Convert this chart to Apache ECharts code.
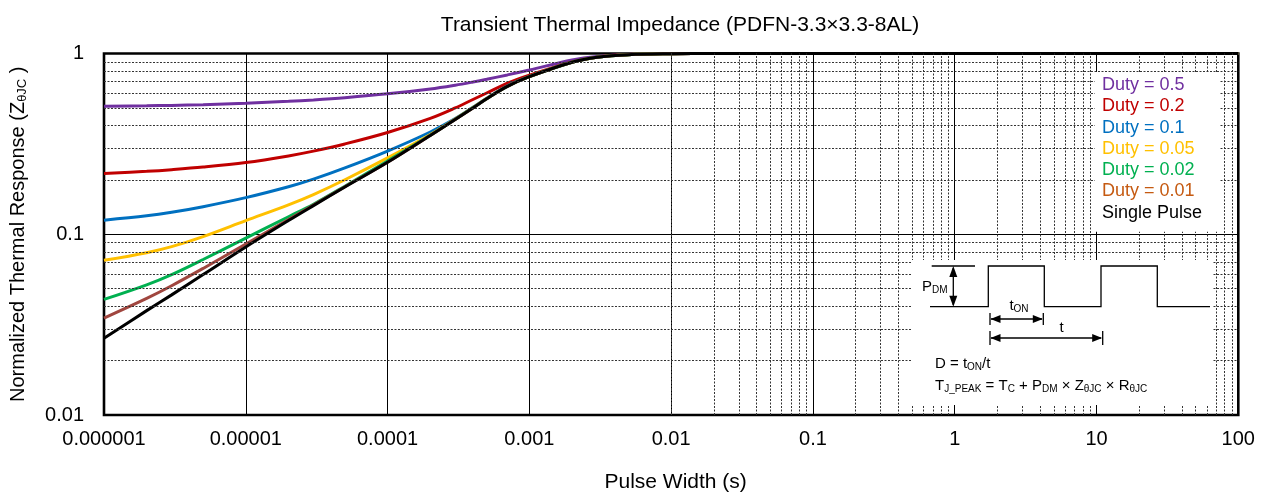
<!DOCTYPE html>
<html><head><meta charset="utf-8">
<script src="https://cdn.jsdelivr.net/npm/echarts@6/dist/echarts.min.js"></script>
<style>html,body{margin:0;padding:0;background:#fff}#c{width:1264px;height:499px}</style>
</head><body><div id="c"></div>
<script>
// ---- data ----
const pulseWidth = [1e-6, 2e-6, 3e-6, 5e-6, 1e-5, 2e-5, 3e-5, 5e-5, 1e-4, 2e-4, 3e-4, 4e-4, 5e-4, 7e-4, 1e-3, 2e-3, 3e-3, 5e-3, 1e-2, 2e-2, 1e-1, 1, 10, 100];
const duty05   = [0.510, 0.5136, 0.5163, 0.5211, 0.5309, 0.5439, 0.5538, 0.5697, 0.598, 0.6364, 0.668, 0.6957, 0.720, 0.7613, 0.810, 0.920, 0.963, 0.988, 0.998, 1, 1, 1, 1, 1];
const duty02   = [0.217, 0.223, 0.2277, 0.2353, 0.2495, 0.2713, 0.2883, 0.316, 0.3656, 0.4377, 0.500, 0.5566, 0.6046, 0.6846, 0.758, 0.898, 0.955, 0.986, 0.997, 1, 1, 1, 1, 1];
const duty01   = [0.1197, 0.1265, 0.1323, 0.1421, 0.1594, 0.1831, 0.2017, 0.2328, 0.2885, 0.3678, 0.436, 0.5036, 0.5655, 0.6623, 0.746, 0.895, 0.953, 0.985, 0.997, 1, 1, 1, 1, 1];
const duty005  = [0.0718, 0.0791, 0.0854, 0.0971, 0.119, 0.1455, 0.1659, 0.2003, 0.2644, 0.3561, 0.434, 0.502, 0.5635, 0.659, 0.745, 0.894, 0.953, 0.985, 0.997, 1, 1, 1, 1, 1];
const duty002  = [0.0436, 0.0525, 0.0598, 0.0725, 0.0952, 0.125, 0.1465, 0.1845, 0.2545, 0.353, 0.4325, 0.5005, 0.5623, 0.6582, 0.744, 0.894, 0.953, 0.985, 0.997, 1, 1, 1, 1, 1];
const duty001  = [0.0344, 0.0442, 0.0519, 0.0647, 0.0884, 0.1207, 0.1452, 0.1832, 0.2505, 0.3522, 0.4321, 0.500, 0.562, 0.658, 0.744, 0.894, 0.953, 0.985, 0.997, 1, 1, 1, 1, 1];
const single   = [0.0266, 0.0378, 0.0462, 0.0598, 0.085, 0.119, 0.144, 0.1825, 0.250, 0.352, 0.432, 0.500, 0.562, 0.658, 0.744, 0.894, 0.953, 0.985, 0.997, 1, 1, 1, 1, 1];

const seriesNames = ['Duty = 0.5', 'Duty = 0.2', 'Duty = 0.1', 'Duty = 0.05', 'Duty = 0.02', 'Duty = 0.01', 'Single Pulse'];
const xTickLabels = ['0.000001', '0.00001', '0.0001', '0.001', '0.01', '0.1', '1', '10', '100'];
const yTickLabels = ['0.01', '0.1', '1'];
const minorMultipliers = [2, 3, 4, 5, 6, 7, 8, 9];
const xDecades = [1e-6, 1e-5, 1e-4, 1e-3, 1e-2, 1e-1, 1, 10];
const yDecades = [0.01, 0.1];

// ---- style ----
const FONT = '"Liberation Sans", Arial, sans-serif';
const lineColors = ['#7030A0', '#C00000', '#0070C0', '#FFC000', '#00B050', '#A0463F', '#000000'];
const legendColors = ['#7030A0', '#C00000', '#0070C0', '#FFC000', '#00B050', '#C55A11', '#000000'];
const values = [duty05, duty02, duty01, duty005, duty002, duty001, single];

const xMinor = [], yMinor = [];
xDecades.forEach(d => minorMultipliers.forEach(m => xMinor.push({ xAxis: m * d })));
yDecades.forEach(d => minorMultipliers.forEach(m => yMinor.push({ yAxis: m * d })));

const series = [{
  type: 'line', name: '__grid', data: [], silent: true, z: 1,
  markLine: {
    silent: true, animation: false, symbol: ['none', 'none'], label: { show: false },
    emphasis: { disabled: true },
    lineStyle: { color: '#333', type: [2, 1.5], width: 1 },
    data: xMinor.concat(yMinor)
  }
}];
seriesNames.forEach((n, i) => {
  series.push({
    name: n, type: 'line', data: pulseWidth.map((x, j) => [x, values[i][j]]),
    symbol: 'none', smooth: 0.35, z: 3,
    lineStyle: { color: lineColors[i], width: 3 }, itemStyle: { color: lineColors[i] },
    emphasis: { disabled: true }, animation: false
  });
});

const sub = { fontSize: 10, fontFamily: FONT, color: '#000', padding: [7, 0, 0, 0] };
const nrm = { fontSize: 15, fontFamily: FONT, color: '#000' };
const Z = 100;
const blk = { stroke: '#000', lineWidth: 1.3, fill: null };
function tri(p) { return { type: 'polygon', z: Z, shape: { points: p }, style: { fill: '#000' } }; }
const graphic = [
  { type: 'rect', z: Z, shape: { x: 911, y: 260, width: 301, height: 145 }, style: { fill: '#fff' } },
  { type: 'polyline', z: Z, shape: { points: [[930, 306.7], [988.3, 306.7], [988.3, 266], [1044.3, 266], [1044.3, 306.7], [1101, 306.7], [1101, 266], [1157.3, 266], [1157.3, 306.7], [1210, 306.7]] }, style: blk },
  { type: 'line', z: Z, shape: { x1: 931.7, y1: 266, x2: 975, y2: 266 }, style: blk },
  { type: 'line', z: Z, shape: { x1: 953.3, y1: 268, x2: 953.3, y2: 305 }, style: blk },
  tri([[953.3, 266], [949.3, 277], [957.3, 277]]),
  tri([[953.3, 306.7], [949.3, 295.7], [957.3, 295.7]]),
  { type: 'line', z: Z, shape: { x1: 990, y1: 313, x2: 990, y2: 325 }, style: blk },
  { type: 'line', z: Z, shape: { x1: 1043.3, y1: 313, x2: 1043.3, y2: 325 }, style: blk },
  { type: 'line', z: Z, shape: { x1: 991, y1: 319, x2: 1042, y2: 319 }, style: blk },
  tri([[990.5, 319], [1000.5, 315], [1000.5, 323]]),
  tri([[1042.8, 319], [1032.8, 315], [1032.8, 323]]),
  { type: 'line', z: Z, shape: { x1: 990, y1: 331, x2: 990, y2: 345 }, style: blk },
  { type: 'line', z: Z, shape: { x1: 1102.7, y1: 331, x2: 1102.7, y2: 345 }, style: blk },
  { type: 'line', z: Z, shape: { x1: 991, y1: 338, x2: 1101, y2: 338 }, style: blk },
  tri([[990.5, 338], [1000.5, 334], [1000.5, 342]]),
  tri([[1102.2, 338], [1092.2, 334], [1092.2, 342]]),
  { type: 'text', z: Z, x: 922, y: 287, style: { text: '{n|P}{s|DM}', rich: { n: nrm, s: sub }, verticalAlign: 'middle', align: 'left' } },
  { type: 'text', z: Z, x: 1019, y: 306, style: { text: '{n|t}{s|ON}', rich: { n: nrm, s: sub }, verticalAlign: 'middle', align: 'center' } },
  { type: 'text', z: Z, x: 1061.7, y: 328, style: { text: 't', font: '15px ' + FONT, fill: '#000', verticalAlign: 'middle', align: 'center' } },
  { type: 'text', z: Z, x: 935, y: 364, style: { text: '{n|D = t}{s|ON}{n|/t}', rich: { n: nrm, s: sub }, verticalAlign: 'middle', align: 'left' } },
  { type: 'text', z: Z, x: 935, y: 386, style: { text: '{n|T}{s|J_PEAK}{n| = T}{s|C}{n| + P}{s|DM}{n| × Z}{s|θJC}{n| × R}{s|θJC}', rich: { n: nrm, s: sub }, verticalAlign: 'middle', align: 'left' } }
];

const chart = echarts.init(document.getElementById('c'), null, { renderer: 'canvas' });
chart.setOption({
  animation: false,
  backgroundColor: '#fff',
  title: {
    text: 'Transient Thermal Impedance (PDFN-3.3×3.3-8AL)',
    left: 675, top: 10, textAlign: 'center',
    textStyle: { fontFamily: FONT, fontSize: 21, fontWeight: 'normal', color: '#000' }
  },
  grid: { left: 102.3, right: 25.7, top: 53.5, bottom: 84, show: true, borderColor: '#000', borderWidth: 2.6, backgroundColor: 'transparent', containLabel: false },
  legend: {
    orient: 'vertical', left: 1095, top: 72, icon: 'none', itemWidth: 0, itemHeight: 14, itemGap: 3.3,
    padding: [4, 18, 10, 2], backgroundColor: '#fff', selectedMode: false, z: 50,
    textStyle: { fontSize: 18, fontFamily: FONT },
    data: seriesNames.map((n, i) => ({ name: n, textStyle: { color: legendColors[i], fontSize: 18, fontFamily: FONT } }))
  },
  xAxis: {
    type: 'log', logBase: 10, min: 1e-6, max: 100, interval: 1,
    name: 'Pulse Width (s)', nameLocation: 'middle', nameGap: 57,
    nameTextStyle: { fontFamily: FONT, fontSize: 21, color: '#000', padding: [0, 0, 0, 9] },
    axisLine: { show: false }, axisTick: { show: false },
    axisLabel: { fontFamily: FONT, fontSize: 20, color: '#000', margin: 14, formatter: v => xTickLabels[Math.round(Math.log10(v)) + 6] },
    splitLine: { show: true, lineStyle: { color: '#000', width: 1 } }
  },
  yAxis: {
    type: 'log', logBase: 10, min: 0.01, max: 1, interval: 1,
    name: '{n|Normalized Thermal Response (Z}{s|θJC}{n| )}', nameLocation: 'middle', nameGap: 75, nameRotate: 90,
    nameTextStyle: { rich: { n: { fontFamily: FONT, fontSize: 20, color: '#000' }, s: { fontFamily: FONT, fontSize: 13, color: '#000', padding: [9, 0, 0, 0] } } },
    axisLine: { show: false }, axisTick: { show: false },
    axisLabel: { fontFamily: FONT, fontSize: 20, color: '#000', margin: 20, formatter: v => yTickLabels[Math.round(Math.log10(v)) + 2] },
    splitLine: { show: true, lineStyle: { color: '#000', width: 1 } }
  },
  graphic: graphic,
  series: series
});
</script></body></html>
